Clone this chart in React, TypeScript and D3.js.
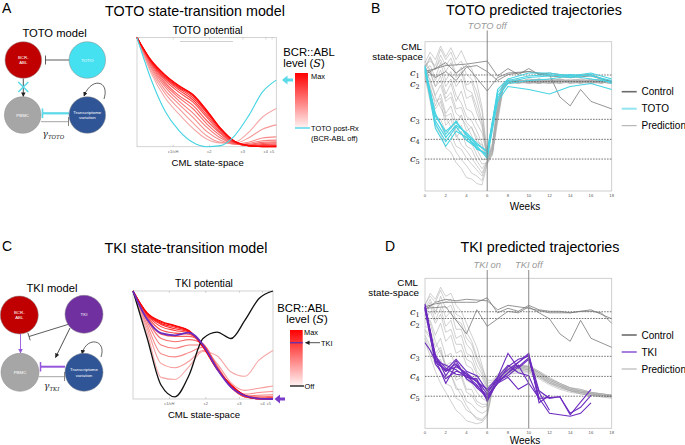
import * as d3 from 'd3';

const SANS = '"Liberation Sans", Arial, Helvetica, sans-serif';
const SERIF = '"DejaVu Serif", "Liberation Serif", serif';

// ---------- potential landscapes (x: CML state-space 0..1, y: potential 0..1)
const potX = [0, 0.1, 0.2, 0.3, 0.4, 0.5, 0.6, 0.7, 0.8, 0.9, 1];
const potTickLabels = ['c1/cH', 'c2', 'c3', 'c4', 'c5'];
const potTickPos = [0.26, 0.52, 0.76, 0.925, 0.97];

// TOTO potential, lowest BCR::ABL level -> max
const totoRed = [
  [1, 0.68, 0.45, 0.3, 0.17, 0.07, 0.035, 0.04, 0.13, 0.27, 0.35],
  [1, 0.7, 0.49, 0.35, 0.22, 0.1, 0.04, 0.03, 0.08, 0.16, 0.2],
  [1, 0.72, 0.52, 0.39, 0.27, 0.14, 0.06, 0.025, 0.04, 0.08, 0.09],
  [1, 0.735, 0.55, 0.42, 0.31, 0.18, 0.08, 0.025, 0.03, 0.055, 0.06],
  [1, 0.75, 0.57, 0.45, 0.35, 0.21, 0.1, 0.025, 0.02, 0.04, 0.045],
  [1, 0.76, 0.59, 0.47, 0.38, 0.24, 0.12, 0.03, 0.015, 0.03, 0.035],
  [1, 0.77, 0.61, 0.5, 0.41, 0.27, 0.13, 0.035, 0.01, 0.02, 0.025],
  [1, 0.775, 0.625, 0.52, 0.43, 0.29, 0.145, 0.04, 0.01, 0.012, 0.015],
  [1, 0.78, 0.635, 0.535, 0.45, 0.31, 0.155, 0.045, 0.01, 0.007, 0.01],
  [1, 0.785, 0.645, 0.545, 0.465, 0.32, 0.16, 0.048, 0.01, 0.003, 0.005],
  [1, 0.79, 0.655, 0.555, 0.475, 0.33, 0.165, 0.05, 0.01, 0, 0],
  [1, 0.795, 0.66, 0.56, 0.48, 0.335, 0.17, 0.05, 0.01, 0, 0],
];
const totoPostRx = [1, 0.62, 0.33, 0.15, 0.04, 0, 0.01, 0.1, 0.28, 0.5, 0.61];

// TKI potential, lowest BCR::ABL level -> max
const tkiRed = [
  [1, 0.62, 0.2, 0.18, 0.3, 0.44, 0.4, 0.25, 0.21, 0.36, 0.45],
  [1, 0.66, 0.33, 0.29, 0.35, 0.45, 0.33, 0.15, 0.08, 0.1, 0.12],
  [1, 0.69, 0.42, 0.39, 0.43, 0.48, 0.31, 0.12, 0.045, 0.06, 0.07],
  [1, 0.72, 0.5, 0.47, 0.5, 0.5, 0.3, 0.11, 0.03, 0.035, 0.04],
  [1, 0.74, 0.56, 0.53, 0.55, 0.51, 0.3, 0.11, 0.025, 0.02, 0.025],
  [1, 0.76, 0.6, 0.58, 0.58, 0.51, 0.3, 0.11, 0.02, 0.01, 0.015],
  [1, 0.77, 0.64, 0.61, 0.6, 0.5, 0.29, 0.12, 0.02, 0.005, 0.008],
  [1, 0.78, 0.67, 0.635, 0.61, 0.5, 0.29, 0.12, 0.02, 0.003, 0.004],
  [1, 0.785, 0.69, 0.65, 0.62, 0.5, 0.285, 0.125, 0.025, 0.002, 0.002],
  [1, 0.79, 0.7, 0.665, 0.625, 0.49, 0.28, 0.125, 0.03, 0.002, 0],
  [1, 0.795, 0.71, 0.675, 0.63, 0.49, 0.28, 0.13, 0.03, 0.001, 0],
  [1, 0.8, 0.72, 0.68, 0.635, 0.48, 0.275, 0.13, 0.035, 0.005, 0],
];
const tkiDose = [1, 0.74, 0.61, 0.59, 0.615, 0.5, 0.28, 0.11, 0.03, 0.004, 0];
const tkiOffCurve = [1, 0.57, 0.13, 0.02, 0.22, 0.56, 0.62, 0.56, 0.73, 0.93, 1];

// ---------- trajectories (y: CML state-space 0 bottom .. 100 top)
const weekTicks = [0, 2, 4, 6, 8, 10, 12, 14, 16, 18];
const cNames = ['1', '2', '3', '4', '5'];
const cLevels = [77.7, 73.2, 48, 34.6, 21.4];
const predWeeks = [0, 0.5, 1, 1.5, 2, 2.5, 3, 3.5, 4, 4.5, 5, 5.5, 6, 6.5, 7, 7.5, 8, 9, 10, 11, 12, 13, 14, 15, 16, 17, 18];

const predB = [
  [86, 93, 88, 97, 90, 96, 88, 94, 86, 82, 72, 56, 25, 32, 60, 71, 74, 73, 75, 74, 73, 75, 74, 73, 74, 75, 73],
  [82, 89, 81, 91, 84, 89, 78, 83, 71, 73, 61, 47, 22, 28, 55, 70, 73, 75, 73, 74, 75, 73, 74, 72, 75, 73, 72],
  [80, 79, 70, 77, 65, 72, 60, 67, 55, 53, 45, 39, 23, 30, 52, 69, 74, 73, 74, 72, 73, 74, 73, 75, 73, 74, 73],
  [78, 70, 57, 65, 52, 57, 45, 51, 40, 43, 33, 31, 21, 27, 48, 68, 73, 74, 72, 73, 74, 73, 75, 74, 73, 72, 74],
  [84, 73, 63, 56, 49, 43, 38, 31, 27, 22, 17, 12, 20, 26, 50, 70, 72, 73, 74, 73, 72, 74, 73, 74, 72, 73, 72],
  [76, 60, 44, 38, 29, 26, 19, 15, 9, 8, 5, 4, 18, 24, 46, 67, 72, 74, 73, 75, 73, 72, 74, 73, 74, 75, 73],
  [87, 81, 74, 81, 70, 75, 64, 59, 50, 47, 40, 32, 22, 29, 57, 71, 73, 72, 73, 74, 73, 74, 72, 73, 74, 73, 74],
  [80, 66, 51, 45, 36, 33, 26, 21, 17, 12, 10, 7, 19, 25, 53, 69, 74, 73, 72, 73, 74, 75, 73, 72, 73, 74, 73],
  [84, 87, 84, 95, 88, 93, 84, 87, 78, 75, 66, 53, 23, 31, 58, 72, 73, 74, 73, 72, 74, 73, 74, 75, 74, 72, 74],
  [79, 75, 64, 71, 60, 63, 52, 49, 44, 37, 28, 21, 21, 28, 54, 70, 72, 73, 75, 74, 73, 72, 73, 74, 73, 74, 73],
  [81, 84, 76, 86, 74, 80, 70, 75, 62, 64, 52, 43, 22, 30, 56, 70, 75, 73, 74, 73, 75, 74, 73, 74, 72, 74, 73],
  [77, 64, 55, 60, 44, 48, 36, 40, 30, 28, 20, 15, 20, 26, 51, 69, 73, 72, 74, 75, 73, 74, 72, 73, 75, 73, 74],
  [83, 90, 82, 88, 80, 86, 76, 80, 68, 66, 56, 45, 24, 29, 55, 71, 73, 74, 73, 75, 74, 73, 74, 73, 74, 73, 74],
  [75, 68, 60, 62, 50, 52, 40, 44, 34, 32, 24, 18, 19, 25, 49, 68, 72, 74, 73, 72, 74, 73, 74, 73, 72, 74, 73],
  [85, 80, 70, 74, 62, 66, 55, 56, 46, 42, 36, 28, 21, 28, 55, 70, 73, 73, 74, 73, 73, 75, 73, 74, 73, 73, 72],
  [79, 62, 50, 48, 40, 38, 30, 28, 22, 18, 14, 10, 20, 26, 50, 69, 73, 74, 74, 73, 72, 73, 74, 73, 74, 73, 74],
];

const predD = [
  [82, 90, 86, 94, 88, 90, 82, 78, 70, 62, 54, 42, 30, 31, 35, 38, 40, 41, 40, 37, 32, 29, 27, 25, 24, 23, 22],
  [78, 84, 76, 88, 80, 82, 72, 70, 60, 56, 46, 38, 28, 30, 34, 37, 39, 42, 41, 38, 33, 30, 27, 26, 24, 22, 22],
  [70, 72, 62, 70, 58, 62, 50, 52, 42, 40, 32, 28, 22, 28, 33, 36, 38, 40, 40, 36, 31, 28, 26, 24, 23, 22, 21],
  [65, 60, 48, 52, 40, 42, 32, 34, 24, 22, 16, 14, 15, 27, 32, 35, 37, 39, 39, 35, 31, 28, 25, 24, 22, 22, 21],
  [80, 70, 58, 50, 42, 36, 28, 22, 15, 10, 6, 5, 10, 26, 31, 34, 37, 38, 38, 34, 30, 27, 25, 23, 22, 21, 21],
  [58, 48, 38, 30, 24, 18, 12, 9, 5, 4, 3, 4, 8, 25, 30, 33, 36, 37, 37, 33, 29, 26, 24, 23, 22, 21, 20],
  [75, 82, 72, 80, 68, 72, 60, 62, 50, 48, 38, 34, 25, 29, 34, 37, 40, 42, 41, 37, 33, 29, 26, 25, 23, 23, 22],
  [62, 55, 44, 46, 34, 36, 26, 26, 18, 16, 12, 10, 12, 27, 32, 36, 38, 40, 39, 35, 30, 28, 25, 24, 23, 22, 21],
  [83, 88, 84, 92, 84, 86, 76, 74, 64, 58, 48, 40, 32, 32, 36, 39, 41, 42, 42, 38, 34, 30, 27, 26, 24, 23, 22],
  [68, 66, 54, 60, 48, 50, 40, 42, 32, 30, 24, 20, 18, 28, 33, 36, 39, 41, 40, 36, 32, 29, 26, 24, 23, 22, 22],
  [72, 78, 70, 76, 64, 66, 56, 56, 46, 44, 36, 30, 24, 29, 34, 37, 39, 41, 41, 37, 32, 29, 26, 25, 23, 22, 22],
  [60, 52, 42, 40, 30, 28, 20, 18, 12, 10, 7, 6, 9, 26, 31, 35, 37, 39, 38, 34, 30, 27, 25, 23, 22, 22, 21],
  [80, 86, 78, 84, 74, 78, 66, 66, 56, 52, 42, 36, 27, 30, 35, 38, 40, 42, 41, 37, 33, 30, 27, 25, 24, 23, 22],
  [66, 62, 50, 54, 42, 44, 34, 36, 26, 26, 18, 16, 16, 27, 32, 35, 38, 40, 39, 35, 31, 28, 25, 24, 23, 22, 21],
];

type Series = { w: number[]; v: number[] };

const ctrlB: Series[] = [
  { w: [0, 2, 4, 6, 7, 8, 9, 10, 11, 12, 14, 16, 18], v: [80, 84, 85, 87, 77, 82, 78, 82, 78, 79, 77, 78, 73] },
  { w: [0, 1, 2, 3, 4, 5, 6, 7, 8, 10, 12, 13, 14, 15, 16, 18], v: [82, 76, 80, 74, 83, 84, 80, 74, 78, 80, 78, 63, 57, 68, 60, 55] },
  { w: [0, 2, 3, 4, 6, 7, 8, 10, 12, 14, 16, 18], v: [78, 86, 79, 84, 67, 76, 79, 80, 77, 76, 77, 73] },
];
const totoWeeks = [0, 1, 2, 3, 4, 5, 6, 7, 8, 10, 12, 14, 16, 18];
const totoB: Series[] = [
  { w: totoWeeks, v: [84, 50, 40, 46, 38, 31, 27, 66, 74, 77, 78, 76, 78, 72] },
  { w: totoWeeks, v: [83, 45, 33, 43, 34, 29, 24, 62, 73, 76, 77, 78, 77, 74] },
  { w: totoWeeks, v: [82, 42, 30, 40, 36, 30, 22, 60, 70, 68, 65, 70, 72, 68] },
  { w: totoWeeks, v: [80, 47, 36, 44, 39, 32, 26, 64, 72, 74, 75, 77, 75, 73] },
  { w: totoWeeks, v: [81, 52, 38, 47, 37, 28, 25, 68, 75, 79, 79, 77, 79, 75] },
];

const ctrlD: Series[] = [
  { w: [0, 1, 2, 4, 5, 6, 7, 8, 9, 10, 11, 12, 13, 14, 15, 16, 17, 18], v: [81, 83, 84, 84, 84, 87, 77, 80, 78, 82, 79, 78, 78, 77, 78, 78, 77, 70] },
  { w: [0, 2, 4, 5, 6, 7, 8, 9, 10, 11, 12, 13, 14, 15, 16, 18], v: [80, 81, 63, 79, 68, 73, 78, 77, 81, 77, 73, 63, 58, 72, 60, 54] },
  { w: [0, 1, 2, 3, 4, 6, 7, 8, 10, 12, 14, 16, 18], v: [79, 84, 86, 85, 86, 85, 79, 82, 80, 77, 77, 79, 73] },
];
const tkiD: Series[] = [
  { w: [0, 1, 2, 3, 4, 5, 6, 7, 8, 9, 10, 11, 12], v: [82, 46, 30, 42, 36, 31, 20, 33, 39, 44, 50, 17, 22] },
  { w: [0, 1, 2, 3, 4, 5, 6, 7, 8, 9, 10, 11, 13, 14, 16], v: [80, 48, 40, 36, 35, 29, 19, 31, 41, 46, 48, 20, 21, 9, 26] },
  { w: [0, 0.5, 1, 2, 3, 4, 5, 6, 7, 8, 9, 10, 11, 12], v: [57, 52, 45, 38, 43, 34, 32, 23, 34, 50, 40, 46, 24, 12] },
  { w: [0, 1, 2, 3, 4, 5, 6, 7, 8, 9, 10, 12, 14, 15, 16], v: [81, 49, 35, 45, 33, 28, 22, 30, 37, 42, 30, 10, 8, 10, 17] },
  { w: [0, 1, 2, 3, 4, 5, 6, 7, 8, 9, 10, 11], v: [83, 47, 38, 41, 37, 31, 26, 34, 42, 37, 35, 19] },
  { w: [0, 1, 2, 3, 4, 5, 6, 7, 8, 9, 10], v: [79, 43, 33, 38, 36, 27, 21, 30, 34, 26, 30] },
  { w: [0, 1, 2, 3, 4, 5, 6, 7, 8, 9, 10, 11, 12, 13, 14, 15, 16], v: [81, 45, 42, 39, 34, 33, 18, 31, 37, 44, 49, 25, 20, 21, 10, 14, 22] },
  { w: [0, 1, 2, 3, 4, 5, 6, 7, 8, 9, 10, 11], v: [80, 44, 39, 46, 38, 35, 25, 32, 35, 41, 47, 20] },
];

const CYAN = '#45d3e3';
const PURPLE = '#6c2bbf';

// ---------- potential panel
type Extra = { v: number[]; color: string; width: number };
const PotentialPanel = ({ l, r, t, b, reds, extras, title }:
  { l: number; r: number; t: number; b: number; reds: number[][]; extras: Extra[]; title: string }) => {
  const x = d3.scaleLinear().domain([0, 1]).range([l, r]);
  const y = d3.scaleLinear().domain([0, 1]).range([b, t]);
  const line = d3.line<number>().x((_, i) => x(potX[i])).y((d) => y(d)).curve(d3.curveMonotoneX);
  const shade = d3.interpolateRgb('#f6a9a9', '#ff0000');
  const cx = (l + r) / 2;
  return (
    <g fontFamily={SANS}>
      <text x={cx + 1} y={t - 4} fontSize={10.3} textAnchor="middle">{title}</text>
      <rect x={l} y={t} width={r - l} height={b - t} fill="white" stroke="#c9c9c9" strokeWidth={0.8} />
      {potTickPos.map((p, i) => (
        <g key={i}>
          <line x1={x(p)} x2={x(p)} y1={b} y2={b - 2} stroke="#aaa" strokeWidth={0.5} />
          <line x1={x(p)} x2={x(p)} y1={t} y2={t + 2} stroke="#aaa" strokeWidth={0.5} />
          <text x={x(p)} y={b + 6} fontSize={4} textAnchor="middle" fill="#666">{potTickLabels[i]}</text>
        </g>
      ))}
      {reds.map((v, i) => (
        <path key={i} d={line(v) ?? ''} fill="none" stroke={shade(i / (reds.length - 1))} strokeWidth={1.1} />
      ))}
      {extras.map((e, i) => (
        <path key={'e' + i} d={line(e.v) ?? ''} fill="none" stroke={e.color} strokeWidth={e.width} />
      ))}
      <text x={cx + 1} y={b + 19} fontSize={9.6} textAnchor="middle">CML state-space</text>
    </g>
  );
};

// ---------- trajectory panel
type Event = { week: number; label: string };
const TrajPanel = ({ t, b, preds, ctrls, treats, treatColor, events, eventTop, legendTop, treatName, legendTreatColor, labelRight, weeksY, cShift }:
  {
    t: number; b: number; preds: number[][]; ctrls: Series[]; treats: Series[]; treatColor: string;
    events: Event[]; eventTop: number; legendTop: number; treatName: string; legendTreatColor: string;
    labelRight: number; weeksY: number; cShift: number[];
  }) => {
  const x = d3.scaleLinear().domain([0, 18]).range([425, 611.7]);
  const y = d3.scaleLinear().domain([0, 100]).range([b, t]);
  const line = d3.line<[number, number]>().x((d) => x(d[0])).y((d) => y(d[1]));
  const path = (s: Series) => line(s.w.map((w, i) => [w, s.v[i]] as [number, number])) ?? '';
  const legend = [
    { label: 'Control', color: '#6b6b6b', w: 1.6 },
    { label: treatName, color: legendTreatColor, w: 2 },
    { label: 'Prediction', color: '#a9a9a9', w: 1 },
  ];
  return (
    <g fontFamily={SANS}>
      <rect x={x(0)} y={t} width={x(18) - x(0)} height={b - t} fill="white" stroke="#c4c4c4" strokeWidth={0.8} />
      {preds.map((p, i) => (
        <path key={i} d={path({ w: predWeeks, v: p })} fill="none" stroke="#aaaaaa" strokeWidth={0.65} opacity={0.85} />
      ))}
      {cLevels.map((c, i) => (
        <line key={i} x1={x(0)} x2={x(18)} y1={y(c)} y2={y(c)} stroke="#3a3a3a" strokeWidth={0.7} strokeDasharray="1.6 1.2" />
      ))}
      {ctrls.map((s, i) => (
        <path key={i} d={path(s)} fill="none" stroke="#7a7a7a" strokeWidth={0.8} />
      ))}
      {treats.map((s, i) => (
        <path key={i} d={path(s)} fill="none" stroke={treatColor} strokeWidth={1.1} />
      ))}
      {events.map((e, i) => (
        <g key={i}>
          <line x1={x(e.week)} x2={x(e.week)} y1={eventTop} y2={b} stroke="#7d7d7d" strokeWidth={0.9} />
          <text x={x(e.week)} y={eventTop - 2} fontSize={9.4} fontStyle="italic" fill="#9a9a9a" textAnchor="middle">{e.label}</text>
        </g>
      ))}
      {weekTicks.map((w) => (
        <text key={w} x={x(w)} y={b + 5.5} fontSize={4.2} fill="#555" textAnchor="middle">{w}</text>
      ))}
      <text x={525} y={weeksY} fontSize={10} textAnchor="middle">Weeks</text>
      <text x={labelRight} y={t + 8} fontSize={9.8} textAnchor="end">CML</text>
      <text x={labelRight + 1} y={t + 18} fontSize={9.8} textAnchor="end">state-space</text>
      {cLevels.map((c, i) => (
        <text key={i} x={410} y={y(c) + 2.5 + cShift[i]} fontSize={10} fontFamily={SERIF} fontStyle="italic" fill="#222">
          c<tspan fontSize={6.5} dy={2} fontStyle="normal">{cNames[i]}</tspan>
        </text>
      ))}
      {legend.map((g, i) => (
        <g key={i}>
          <line x1={621.7} x2={636.7} y1={legendTop + i * 17} y2={legendTop + i * 17} stroke={g.color} strokeWidth={g.w} />
          <text x={641.5} y={legendTop + i * 17 + 3.6} fontSize={10}>{g.label}</text>
        </g>
      ))}
    </g>
  );
};

// ---------- network diagrams
const Node = ({ cx, cy, r, fill, lines }: { cx: number; cy: number; r: number; fill: string; lines: string[] }) => (
  <g>
    <circle cx={cx} cy={cy} r={r} fill={fill} stroke="#8a8a8a" strokeWidth={0.5} />
    {lines.map((s, i) => (
      <text key={i} x={cx} y={cy + 1.6 + (i - (lines.length - 1) / 2) * 5.5} fontSize={4.4} fill="white" textAnchor="middle" fontFamily={SANS}>{s}</text>
    ))}
  </g>
);

export default function App() {
  return (
    <svg width={685} height={445} style={{ position: 'absolute', left: 0, top: 0, background: 'white' }} fontFamily={SANS}>
      <defs>
        <marker id="arrBlack" viewBox="0 0 10 10" refX={9} refY={5} markerWidth={4.5} markerHeight={4.5} orient="auto" markerUnits="userSpaceOnUse">
          <path d="M0 0 L10 5 L0 10 z" fill="#222" />
        </marker>
        <marker id="arrPurple" viewBox="0 0 10 10" refX={9} refY={5} markerWidth={4.5} markerHeight={4.5} orient="auto" markerUnits="userSpaceOnUse">
          <path d="M0 0 L10 5 L0 10 z" fill="#9457dc" />
        </marker>
        <linearGradient id="barGrad" x1="0" x2="0" y1="0" y2="1">
          <stop offset="0%" stopColor="#ff0000" />
          <stop offset="100%" stopColor="#fff4f4" />
        </linearGradient>
      </defs>

      {/* panel letters and titles */}
      <text x={2} y={13} fontSize={14}>A</text>
      <text x={371} y={13} fontSize={14}>B</text>
      <text x={2} y={251} fontSize={14}>C</text>
      <text x={385} y={251} fontSize={14}>D</text>
      <text x={195} y={16} fontSize={14.3} textAnchor="middle">TOTO state-transition model</text>
      <text x={534} y={15} fontSize={14.3} textAnchor="middle">TOTO predicted trajectories</text>
      <text x={186} y={253} fontSize={14.3} textAnchor="middle">TKI state-transition model</text>
      <text x={540} y={252} fontSize={14.3} textAnchor="middle">TKI predicted trajectories</text>

      {/* ---- A: TOTO model diagram */}
      <text x={54.5} y={37} fontSize={11.2} textAnchor="middle">TOTO model</text>
      <line x1={69} y1={60} x2={45.5} y2={60} stroke="#333" strokeWidth={0.8} />
      <line x1={45.5} y1={55.5} x2={45.5} y2={64.5} stroke="#333" strokeWidth={0.8} />
      <line x1={23.3} y1={78.5} x2={23.3} y2={96.5} stroke="#222" strokeWidth={0.8} markerEnd="url(#arrBlack)" />
      <path d="M18.3 82 L28.3 92 M28.3 82 L18.3 92" stroke="#5ad9e8" strokeWidth={1.6} />
      <line x1={69} y1={113.3} x2={42.5} y2={113.3} stroke="#5ad9e8" strokeWidth={2.2} />
      <line x1={42.5} y1={108.5} x2={42.5} y2={118} stroke="#5ad9e8" strokeWidth={1.6} />
      <line x1={41} y1={121.7} x2={68.5} y2={121.7} stroke="#9a9a9a" strokeWidth={0.9} />
      <line x1={68.5} y1={117} x2={68.5} y2={126} stroke="#666" strokeWidth={0.8} />
      <path d="M104 99 C110 80, 91 77, 84 96" fill="none" stroke="#222" strokeWidth={0.7} markerEnd="url(#arrBlack)" />
      <Node cx={23.3} cy={60} r={18.3} fill="#c00000" lines={['BCR-', 'ABL']} />
      <Node cx={87.3} cy={60} r={18.3} fill="#45e1f1" lines={['TOTO']} />
      <Node cx={22.7} cy={115} r={18.3} fill="#a6a6a6" lines={['PBMC']} />
      <Node cx={87.3} cy={115} r={18.3} fill="#2f5597" lines={['Transcriptome', 'variation']} />
      <text x={42.5} y={137} fontSize={9} fontFamily={SERIF} fontStyle="italic" fill="#222">
        γ<tspan fontSize={5.5} dy={1.5}>TOTO</tspan>
      </text>

      {/* ---- A: TOTO potential */}
      <PotentialPanel l={137} r={276.3} t={37.5} b={146.7} reds={totoRed} title="TOTO potential"
        extras={[{ v: totoPostRx, color: CYAN, width: 1.1 }]} />
      <line x1={180} x2={233} y1={41.5} y2={41.5} stroke="#c4c4c4" strokeWidth={0.8} />
      <path d="M282 80 L287.5 75.5 L287.5 78.5 L293 78.5 L293 81.5 L287.5 81.5 L287.5 84.5 Z" fill="#5ad9e8" />
      <text x={309} y={56} fontSize={11.3} textAnchor="middle">BCR::ABL</text>
      <text x={304} y={67} fontSize={11.3} textAnchor="middle">level (<tspan fontFamily={SERIF} fontStyle="italic">S</tspan>)</text>
      <rect x={295} y={73} width={13} height={55} fill="url(#barGrad)" />
      <line x1={295} x2={310} y1={128} y2={128} stroke="#5ad9e8" strokeWidth={1.5} />
      <text x={311} y={78.5} fontSize={7.4}>Max</text>
      <text x={311} y={131} fontSize={7.4}>TOTO post-Rx</text>
      <text x={311} y={140.5} fontSize={7.4}>(BCR-ABL off)</text>

      {/* ---- B: TOTO trajectories */}
      <TrajPanel t={41.7} b={191} preds={predB} ctrls={ctrlB} treats={totoB} treatColor={CYAN}
        events={[{ week: 6, label: 'TOTO off' }]} eventTop={30.5} legendTop={91.7} treatName="TOTO"
        legendTreatColor="#92e4ee" labelRight={422} weeksY={209.5} cShift={[-1.5, 2.5, 0, 0, 0]} />

      {/* ---- C: TKI model diagram */}
      <text x={52} y={292} fontSize={11.2} textAnchor="middle">TKI model</text>
      <line x1={20.5} y1={334} x2={20.5} y2={353} stroke="#9457dc" strokeWidth={0.9} markerEnd="url(#arrPurple)" />
      <line x1={71} y1={323.5} x2={29} y2={336.5} stroke="#333" strokeWidth={0.8} />
      <line x1={27.8} y1={332.7} x2={30.2} y2={340.3} stroke="#333" strokeWidth={0.8} />
      <line x1={70} y1={328} x2={55.5} y2={357.5} stroke="#222" strokeWidth={0.8} markerEnd="url(#arrBlack)" />
      <path d="M101 357 C107 339, 86 336, 82 354" fill="none" stroke="#222" strokeWidth={0.7} markerEnd="url(#arrBlack)" />
      <line x1={65} y1={366.7} x2={40.5} y2={366.7} stroke="#9457dc" strokeWidth={2} />
      <line x1={40.5} y1={362} x2={40.5} y2={371.5} stroke="#9457dc" strokeWidth={1.5} />
      <line x1={39} y1={376.7} x2={64.5} y2={376.7} stroke="#9a9a9a" strokeWidth={0.9} />
      <line x1={64.5} y1={372} x2={64.5} y2={381} stroke="#666" strokeWidth={0.8} />
      <Node cx={19.3} cy={315} r={19} fill="#c00000" lines={['BCR-', 'ABL']} />
      <Node cx={84} cy={314.3} r={19} fill="#7030a0" lines={['TKI']} />
      <Node cx={20} cy={372.3} r={19} fill="#a6a6a6" lines={['PBMC']} />
      <Node cx={84} cy={372.3} r={19} fill="#2f5597" lines={['Transcriptome', 'variation']} />
      <text x={44} y={389} fontSize={9} fontFamily={SERIF} fontStyle="italic" fill="#222">
        γ<tspan fontSize={5.5} dy={1.5}>TKI</tspan>
      </text>

      {/* ---- C: TKI potential */}
      <PotentialPanel l={133} r={273} t={291} b={399} reds={tkiRed} title="TKI potential"
        extras={[{ v: tkiOffCurve, color: '#111', width: 1.3 }, { v: tkiDose, color: PURPLE, width: 1.8 }]} />
      <path d="M274.5 399 L280 394.5 L280 397.5 L285 397.5 L285 400.5 L280 400.5 L280 403.5 Z" fill="#7a3cc8" />
      <text x={303} y={311.5} fontSize={11.3} textAnchor="middle">BCR::ABL</text>
      <text x={307} y={323} fontSize={11.3} textAnchor="middle">level (<tspan fontFamily={SERIF} fontStyle="italic">S</tspan>)</text>
      <rect x={290} y={330} width={12.7} height={56} fill="url(#barGrad)" />
      <line x1={290} x2={302.7} y1={342.7} y2={342.7} stroke="#7030a0" strokeWidth={1.5} />
      <line x1={290} x2={304} y1={386} y2={386} stroke="#111" strokeWidth={1.3} />
      <line x1={320} x2={305.5} y1={342.7} y2={342.7} stroke="#222" strokeWidth={0.8} markerEnd="url(#arrBlack)" />
      <text x={304} y={335} fontSize={7.4}>Max</text>
      <text x={321} y={345.5} fontSize={7.4}>TKI</text>
      <text x={304.5} y={388.7} fontSize={7.4}>Off</text>

      {/* ---- D: TKI trajectories */}
      <TrajPanel t={278.3} b={428.3} preds={predD} ctrls={ctrlD} treats={tkiD} treatColor={PURPLE}
        events={[{ week: 6, label: 'TKI on' }, { week: 10, label: 'TKI off' }]} eventTop={270} legendTop={335}
        treatName="TKI" legendTreatColor="#a77ddd" labelRight={418} weeksY={443.5} cShift={[1, 4.5, 0, 0, 0]} />
    </svg>
  );
}
